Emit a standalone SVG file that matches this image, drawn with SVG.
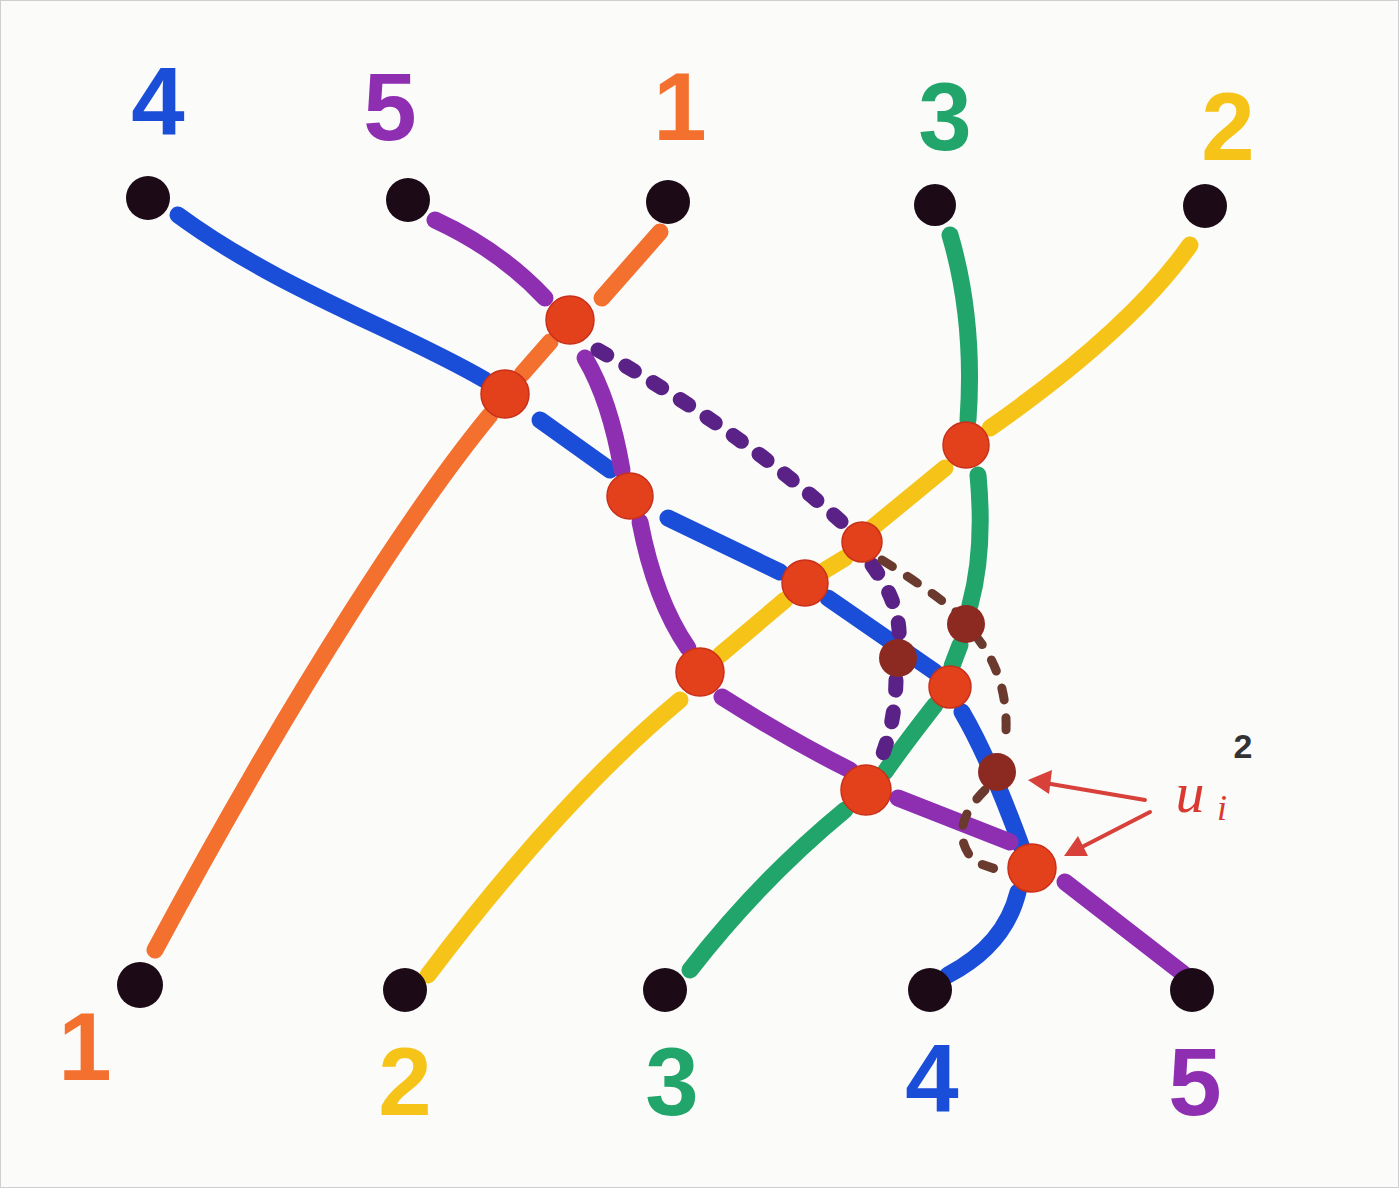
<svg xmlns="http://www.w3.org/2000/svg" width="1399" height="1188" viewBox="0 0 1399 1188">
<style>
.ln{fill:none;stroke-width:17;stroke-linecap:round}
.b{stroke:#1b4ed8}.p{stroke:#8e2fb2}.o{stroke:#f4702e}.g{stroke:#22a56b}.y{stroke:#f6c419}
.pd{fill:none;stroke:#5a2286;stroke-width:15;stroke-linecap:round;stroke-dasharray:10 22}
.dd{fill:none;stroke:#6a3a2e;stroke-width:9;stroke-linecap:round;stroke-dasharray:12 18}
.rn{fill:#e3401c;stroke:#c9301a;stroke-width:1.5}
.dn{fill:#8c2a22}
.bk{fill:#1c0a16}
.ar{fill:none;stroke:#d8403a;stroke-width:4;stroke-linecap:round}
.ah{fill:#d8403a}
.t{font-family:"Liberation Sans",Arial,sans-serif;font-weight:bold;font-size:96px;text-anchor:middle}
</style>
<rect x="0.5" y="0.5" width="1398" height="1187" fill="#fbfbfa" stroke="#cfcfcf"/>
<g id="connectors">
<path class="ln o" d="M660,232 L602,298"/>
<path class="ln o" d="M550,342 L522,374"/>
<path class="ln o" d="M490,415 C420,500 300,680 155,950"/>
<path class="ln b" d="M178,215 C280,290 400,330 485,380"/>
<path class="ln b" d="M540,420 L610,470"/>
<path class="ln b" d="M668,518 L780,572"/>
<path class="ln b" d="M828,598 L935,672"/>
<path class="ln b" d="M962,712 Q990,760 1022,848"/>
<path class="ln b" d="M1018,892 Q1005,945 948,975"/>
<path class="ln p" d="M435,220 Q500,250 545,298"/>
<path class="ln p" d="M585,358 Q610,400 622,470"/>
<path class="ln p" d="M640,522 Q655,600 688,648"/>
<path class="ln p" d="M722,697 Q790,740 850,770"/>
<path class="ln p" d="M898,798 L1010,842"/>
<path class="ln p" d="M1065,882 L1185,975"/>
<path class="ln g" d="M950,235 Q975,320 968,420"/>
<path class="ln g" d="M978,475 Q985,550 970,605"/>
<path class="ln g" d="M960,645 L952,666"/>
<path class="ln g" d="M935,705 Q900,750 885,772"/>
<path class="ln g" d="M845,810 Q760,880 690,970"/>
<path class="ln y" d="M1190,245 Q1130,330 990,428"/>
<path class="ln y" d="M945,468 L872,528"/>
<path class="ln y" d="M845,558 L822,572"/>
<path class="ln y" d="M785,600 L720,655"/>
<path class="ln y" d="M680,700 Q560,800 428,975"/>
<path class="pd" d="M598,350 Q740,430 845,525"/>
<path class="pd" d="M872,565 Q905,610 898,650"/>
<path class="pd" d="M896,680 Q895,730 876,770"/>
<path class="dd" d="M882,560 Q930,590 960,615"/>
<path class="dd" d="M975,635 Q1012,680 1005,745"/>
<path class="dd" d="M985,790 Q945,830 975,862 L1010,874"/>
<path class="ar" d="M1145,800 L1045,783"/>
<path class="ah" d="M1028,780 L1052,770 L1049,794 Z"/>
<path class="ar" d="M1150,812 L1080,848"/>
<path class="ah" d="M1064,856 L1078,836 L1088,856 Z"/>
</g>
<g id="terminals">
<circle id="t4" class="bk" cx="148" cy="198" r="22"/>
<circle id="t5" class="bk" cx="408" cy="200" r="22"/>
<circle id="t1" class="bk" cx="668" cy="202" r="22"/>
<circle id="t3" class="bk" cx="935" cy="205" r="21"/>
<circle id="t2" class="bk" cx="1205" cy="206" r="22"/>
<circle id="b1" class="bk" cx="140" cy="985" r="23"/>
<circle id="b2" class="bk" cx="405" cy="990" r="22"/>
<circle id="b3" class="bk" cx="665" cy="990" r="22"/>
<circle id="b4" class="bk" cx="930" cy="990" r="22"/>
<circle id="b5" class="bk" cx="1192" cy="990" r="22"/>
</g>
<g id="crossings">
<circle id="nA" class="rn" cx="570" cy="320" r="24"/>
<circle id="nB" class="rn" cx="505" cy="394" r="24"/>
<circle id="nC" class="rn" cx="630" cy="496" r="23"/>
<circle id="nD" class="rn" cx="966" cy="445" r="23"/>
<circle id="nE" class="rn" cx="862" cy="542" r="20"/>
<circle id="nF" class="rn" cx="805" cy="583" r="23"/>
<circle id="nG" class="rn" cx="700" cy="672" r="24"/>
<circle id="nH" class="dn" cx="966" cy="624" r="19"/>
<circle id="nI" class="dn" cx="898" cy="658" r="19"/>
<circle id="nJ" class="rn" cx="950" cy="687" r="21"/>
<circle id="nK" class="rn" cx="866" cy="790" r="25"/>
<circle id="nL" class="dn" cx="997" cy="772" r="19"/>
<circle id="nM" class="rn" cx="1032" cy="868" r="24"/>
</g>
<g id="labels">
<text class="t" x="158" y="135" fill="#1b4ed8">4</text>
<text class="t" x="390" y="140" fill="#8e2fb2">5</text>
<text class="t" x="680" y="140" fill="#f4702e">1</text>
<text class="t" x="945" y="150" fill="#22a56b">3</text>
<text class="t" x="1228" y="160" fill="#f6c419">2</text>
<text class="t" x="85" y="1080" fill="#f4702e">1</text>
<text class="t" x="405" y="1115" fill="#f6c419">2</text>
<text class="t" x="672" y="1115" fill="#22a56b">3</text>
<text class="t" x="932" y="1112" fill="#1b4ed8">4</text>
<text class="t" x="1195" y="1115" fill="#8e2fb2">5</text>
<text x="1190" y="812" font-family="Liberation Serif,serif" font-style="italic" font-size="58" fill="#d83a32" text-anchor="middle">u</text>
<text x="1222" y="820" font-family="Liberation Serif,serif" font-style="italic" font-size="36" fill="#d83a32" text-anchor="middle">i</text>
<text x="1243" y="758" font-family="Liberation Sans,sans-serif" font-weight="bold" font-size="34" fill="#333" text-anchor="middle">2</text>
</g>
</svg>
